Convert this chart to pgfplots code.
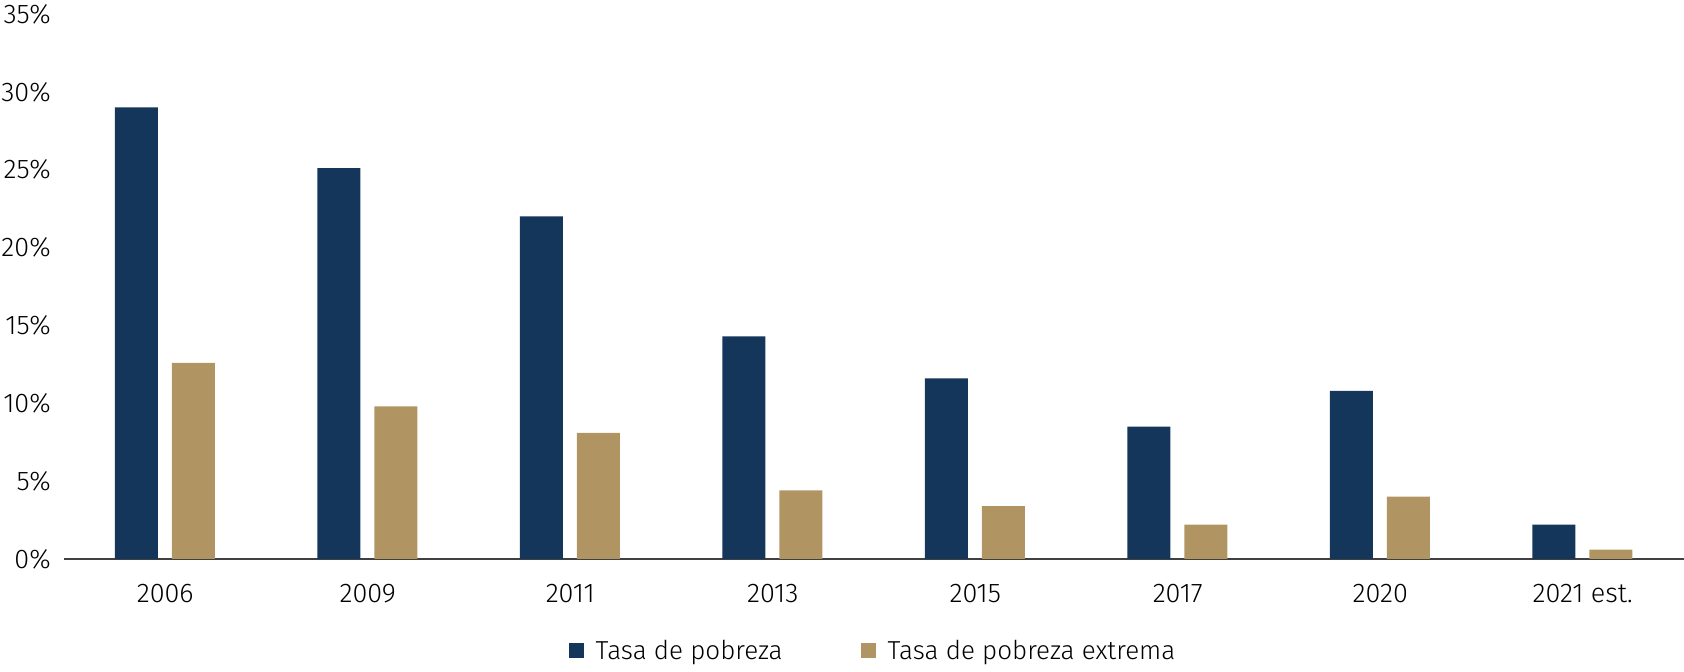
\documentclass[border=0pt]{standalone}
\usepackage{pgfplots}
\pgfplotsset{compat=1.18}
\usepackage{fontspec}
\setmainfont{Fira Sans}[UprightFont=* Light]
\definecolor{cblue}{RGB}{20,54,90}
\definecolor{cgold}{RGB}{176,149,99}
\definecolor{caxis}{RGB}{64,64,64}
\begin{document}
\begin{tikzpicture}
\begin{axis}[
  scale only axis,
  width=810pt, height=272.5pt,
  xmin=-0.5, xmax=7.5,
  ymin=0, ymax=35,
  ybar, bar width=21.5pt,
  xtick={0,...,7},
  xticklabels={2006,2009,2011,2013,2015,2017,2020,2021 est.},
  ytick={0,5,...,35},
  yticklabel={\pgfmathprintnumber{\tick}\%},
  /pgf/number format/assume math mode=true,
  axis x line=bottom, axis y line=left,
  x axis line style={-, draw=caxis, line width=1pt},
  y axis line style={draw=none},
  tick style={draw=none},
  ticklabel style={font=\fontsize{13.5}{16}\selectfont, text=black},
  xticklabel style={yshift=-7pt},
  yticklabel style={xshift=-1pt},
  legend columns=2,
  legend style={at={(0.5,0)}, anchor=center, yshift=-46pt, draw=none,
    font=\fontsize{13}{15}\selectfont,
    /tikz/every odd column/.append style={column sep=4pt},
    /tikz/every even column/.append style={column sep=37pt}},
  legend image code/.code={\fill[#1] (0pt,-3.75pt) rectangle (7.5pt,3.75pt);},
]
\addplot[fill=cblue, draw=none, bar shift=-14.5pt] coordinates {
  (0,29.0) (1,25.1) (2,22.0) (3,14.3) (4,11.6) (5,8.5) (6,10.8) (7,2.2)};
\addlegendentry{Tasa de pobreza}
\addplot[fill=cgold, draw=none, bar shift=14pt] coordinates {
  (0,12.6) (1,9.8) (2,8.1) (3,4.4) (4,3.4) (5,2.2) (6,4.0) (7,0.6)};
\addlegendentry{Tasa de pobreza extrema}
\end{axis}
\pgfresetboundingbox
\path (-32pt,-56.5pt) rectangle (810pt,279.5pt);
\end{tikzpicture}
\end{document}
